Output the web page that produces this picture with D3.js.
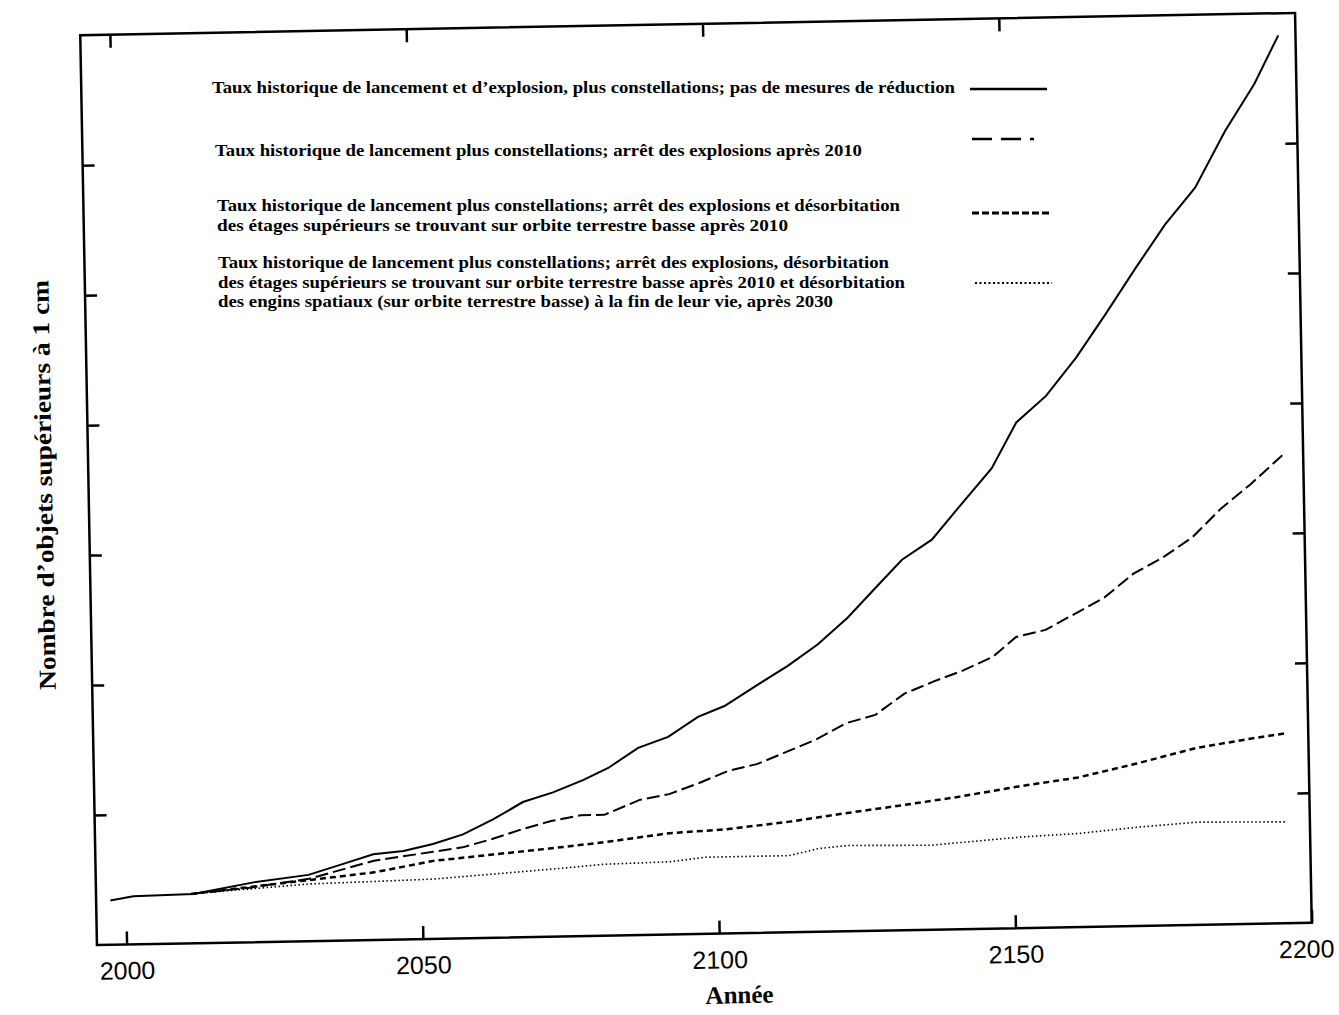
<!DOCTYPE html>
<html>
<head>
<meta charset="utf-8">
<script src="https://cdn.jsdelivr.net/npm/d3@7"></script>
<style>
  body { margin: 0; background: #fff; }
</style>
</head>
<body>
<script>
// Data (y in tick units, axis is unlabelled)
const xTicks = [2000, 2050, 2100, 2150, 2200];
const yTicks = [1, 2, 3, 4, 5, 6];

const years1 = [1997.4, 2001.3, 2011.4, 2021.6, 2030.9, 2036.8, 2041.9, 2047, 2052, 2057.1, 2062.2, 2067.3, 2072.4, 2077.5, 2081.8, 2086.9, 2092, 2097.1, 2101.6, 2107.3, 2112.4, 2117.5, 2122.6, 2127.7, 2132, 2137.1, 2142.2, 2147.4, 2151.7, 2156.8, 2162, 2167.1, 2172.3, 2177.4, 2182.6, 2187.8, 2192.9, 2197.1];
const noMitigation = [0.34, 0.37, 0.38, 0.46, 0.51, 0.59, 0.66, 0.68, 0.73, 0.8, 0.91, 1.04, 1.11, 1.2, 1.29, 1.44, 1.52, 1.67, 1.75, 1.91, 2.05, 2.21, 2.41, 2.65, 2.85, 3.0, 3.27, 3.54, 3.89, 4.09, 4.38, 4.71, 5.06, 5.39, 5.67, 6.1, 6.46, 6.83];

const years2 = [2011, 2021, 2031, 2042, 2052, 2057, 2062, 2067, 2072, 2077, 2081, 2087, 2092, 2097, 2102, 2107, 2112, 2117, 2122, 2127, 2132, 2137, 2142, 2147, 2151, 2156, 2161, 2166, 2171, 2176, 2181, 2186, 2191, 2197];
const noExplosions = [0.38, 0.42, 0.48, 0.61, 0.67, 0.7, 0.76, 0.83, 0.89, 0.93, 0.93, 1.04, 1.08, 1.16, 1.25, 1.3, 1.39, 1.48, 1.6, 1.66, 1.82, 1.91, 1.99, 2.09, 2.24, 2.29, 2.41, 2.53, 2.71, 2.83, 2.98, 3.2, 3.38, 3.62];

const years3 = [2011, 2031, 2042, 2052, 2062, 2072, 2081, 2092, 2101, 2112, 2122, 2131, 2141, 2151, 2161, 2171, 2181, 2191, 2196];
const upperStages = [0.38, 0.47, 0.52, 0.6, 0.64, 0.68, 0.72, 0.78, 0.8, 0.85, 0.91, 0.96, 1.02, 1.09, 1.15, 1.25, 1.36, 1.43, 1.46];

const years4 = [2011, 2031, 2042, 2052, 2062, 2072, 2081, 2092, 2098, 2112, 2117, 2122, 2136, 2151, 2161, 2171, 2181, 2196];
const spacecraft = [0.38, 0.44, 0.45, 0.46, 0.49, 0.52, 0.55, 0.56, 0.59, 0.59, 0.64, 0.66, 0.65, 0.7, 0.72, 0.76, 0.79, 0.78];

const legendText = [
  ['Taux historique de lancement et d\u2019explosion, plus constellations; pas de mesures de réduction'],
  ['Taux historique de lancement plus constellations; arrêt des explosions après 2010'],
  ['Taux historique de lancement plus constellations; arrêt des explosions et désorbitation',
   'des étages supérieurs se trouvant sur orbite terrestre basse après 2010'],
  ['Taux historique de lancement plus constellations; arrêt des explosions, désorbitation',
   'des étages supérieurs se trouvant sur orbite terrestre basse après 2010 et désorbitation',
   'des engins spatiaux (sur orbite terrestre basse) à la fin de leur vie, après 2030']
];
const xTitle = 'Année';
const yTitle = 'Nombre d\u2019objets supérieurs à 1 cm';

const series = [
  { years: years1, values: noMitigation, dash: null, width: 2, legendDash: null },
  { years: years2, values: noExplosions, dash: '13,5', width: 2, legendDash: '20,9,20,9,4' },
  { years: years3, values: upperStages, dash: '6,4', width: 2.5, legendDash: '7,3' },
  { years: years4, values: spacecraft, dash: '1.5,2.5', width: 1.6, legendDash: '2,2.5' }
];

// Canvas
const width = 1339;
const height = 1015;
const svg = d3
  .select('body')
  .append('svg')
  .attr('width', width)
  .attr('height', height);

// the scan is slightly tilted, so draw the plot in a rotated group
const g = svg.append('g').attr('transform', 'rotate(-1.05, 696, 479)');

const plotLeft = 88.5;
const plotRight = 1303.5;
const plotTop = 24;
const plotBottom = 934;

const x = d3.scaleLinear().domain([1995, 2200]).range([plotLeft, plotRight]);
const y = d3.scaleLinear().domain([0, 7]).range([plotBottom, plotTop]);

// Frame
g.append('rect')
  .attr('x', plotLeft)
  .attr('y', plotTop)
  .attr('width', plotRight - plotLeft)
  .attr('height', plotBottom - plotTop)
  .attr('fill', 'none')
  .attr('stroke', '#000')
  .attr('stroke-width', 2.5);

// Axes (ticks point inwards)
const styleAxis = (sel) => {
  sel.select('.domain').remove();
  sel.selectAll('.tick line').attr('stroke', '#000').attr('stroke-width', 2.5);
  sel
    .selectAll('.tick text')
    .attr('fill', '#000')
    .style('font-family', '"Liberation Sans", Arial, sans-serif')
    .style('font-size', '25px');
};

const xAxis = g
  .append('g')
  .attr('transform', `translate(0, ${plotBottom})`)
  .call(d3.axisBottom(x).tickValues(xTicks).tickSize(-13).tickSizeOuter(0).tickPadding(17).tickFormat(d3.format('d')))
  .call(styleAxis);

// last label sits against the page edge
xAxis
  .selectAll('.tick text')
  .filter((d) => d === 2200)
  .attr('dx', -6);

g.append('g')
  .attr('transform', `translate(0, ${plotTop})`)
  .call(d3.axisTop(x).tickValues(xTicks.slice(0, -1)).tickSize(-13).tickSizeOuter(0).tickFormat(''))
  .call(styleAxis);

g.append('g')
  .attr('transform', `translate(${plotLeft}, 0)`)
  .call(d3.axisLeft(y).tickValues(yTicks).tickSize(-12).tickSizeOuter(0).tickFormat(''))
  .call(styleAxis);

g.append('g')
  .attr('transform', `translate(${plotRight}, 0)`)
  .call(d3.axisRight(y).tickValues(yTicks).tickSize(-12).tickSizeOuter(0).tickFormat(''))
  .call(styleAxis);

// Curves
const line = d3
  .line()
  .x((d) => x(d[0]))
  .y((d) => y(d[1]));

g.append('g')
  .selectAll('path')
  .data(series)
  .enter()
  .append('path')
  .attr('d', (s) => line(s.years.map((yr, i) => [yr, s.values[i]])))
  .attr('fill', 'none')
  .attr('stroke', '#000')
  .attr('stroke-width', (s) => s.width)
  .attr('stroke-dasharray', (s) => s.dash);

// Legend (kept level, like the typed text on the scan)
const serif = '"Liberation Serif", "Times New Roman", serif';
const legendX = [212, 215, 217, 218];
const legendY = [93, 156, 211, 268];
const lineGap = 19.5;
const textWidths = [[743], [647], [683, 571], [671, 687, 615]];
const sampleX = [970, 972, 972, 975];
const sampleY = [89, 139, 213, 283];

const legend = svg.append('g').attr('id', 'legend');

legendText.forEach((lines, i) => {
  lines.forEach((txt, j) => {
    legend
      .append('text')
      .attr('x', legendX[i])
      .attr('y', legendY[i] + j * lineGap)
      .attr('textLength', textWidths[i][j])
      .attr('lengthAdjust', 'spacingAndGlyphs')
      .style('font-family', serif)
      .style('font-weight', 'bold')
      .style('font-size', '17px')
      .text(txt);
  });
  legend
    .append('line')
    .attr('x1', sampleX[i])
    .attr('x2', sampleX[i] + 77)
    .attr('y1', sampleY[i])
    .attr('y2', sampleY[i])
    .attr('stroke', '#000')
    .attr('stroke-width', series[i].width + 0.5)
    .attr('stroke-dasharray', series[i].legendDash);
});

// Axis titles
g.append('text')
  .attr('x', 730)
  .attr('y', 1004)
  .attr('text-anchor', 'middle')
  .style('font-family', serif)
  .style('font-weight', 'bold')
  .style('font-size', '25px')
  .text(xTitle);

g.append('text')
  .attr('transform', 'translate(52, 473) rotate(-90)')
  .attr('text-anchor', 'middle')
  .attr('textLength', 410)
  .attr('lengthAdjust', 'spacingAndGlyphs')
  .style('font-family', serif)
  .style('font-weight', 'bold')
  .style('font-size', '24px')
  .text(yTitle);
</script>
</body>
</html>
